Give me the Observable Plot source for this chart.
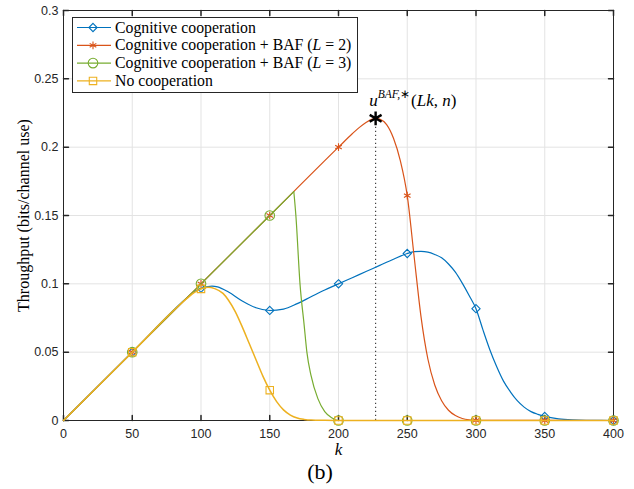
<!DOCTYPE html>
<html>
<head>
<meta charset="utf-8">
<script src="https://cdn.jsdelivr.net/npm/d3@7"></script>
<script src="https://cdn.jsdelivr.net/npm/@observablehq/plot@0.6"></script>
<style>
  body { margin: 0; background: #fff; }
  #wrap { position: relative; width: 634px; height: 489px; overflow: hidden; }
  #chart svg { display: block; }
  #legend { position: absolute; left: 72px; top: 17px; }
  #caption { position: absolute; left: 0; top: 461px; width: 640px; text-align: center;
             font-family: "Liberation Serif", serif; font-size: 22px; line-height: 22px; color: #000; }
</style>
</head>
<body>
<div id="wrap">
  <div id="chart"></div>
  <svg id="legend" width="287" height="77"></svg>
  <div id="caption">(b)</div>
</div>
<script>
// ---- Data ----
const xTicks = [0, 50, 100, 150, 200, 250, 300, 350, 400];
const yTicks = [0, 0.05, 0.1, 0.15, 0.2, 0.25, 0.3];
const yTickLabels = ["0", "0.05", "0.1", "0.15", "0.2", "0.25", "0.3"];

const seriesNames = [
  "Cognitive cooperation",
  "Cognitive cooperation + BAF (L = 2)",
  "Cognitive cooperation + BAF (L = 3)",
  "No cooperation"
];
const seriesColors = ["#0072BD", "#D95319", "#77AC30", "#EDB120"];

// Cognitive cooperation (blue)
const kBlue = [0, 50, 90, 95, 100, 105, 108, 112, 120, 130, 140, 150, 160, 170, 180, 190, 200, 210, 220, 230, 240, 250, 255, 260, 265, 270, 275, 280, 285, 290, 295, 300, 305, 310, 315, 320, 325, 330, 335, 340, 345, 350, 360, 370, 380, 400];
const yBlue = [0, 0.05, 0.09, 0.0942, 0.0968, 0.098, 0.0983, 0.0978, 0.094, 0.0875, 0.0825, 0.0805, 0.0815, 0.0855, 0.0905, 0.0955, 0.1, 0.1045, 0.109, 0.1135, 0.118, 0.1222, 0.1235, 0.1237, 0.1232, 0.1215, 0.119, 0.1145, 0.1085, 0.1005, 0.0915, 0.0818, 0.0665, 0.052, 0.0395, 0.0288, 0.021, 0.0145, 0.0098, 0.0065, 0.0045, 0.003, 0.0012, 0.0004, 0.0001, 0];

// Cognitive cooperation + BAF (L = 2) (red)
const kRed = [0, 50, 100, 150, 200, 210, 215, 220, 225, 227, 230, 235, 240, 245, 250, 255, 260, 265, 270, 275, 280, 285, 290, 295, 300, 400];
const yRed = [0, 0.05, 0.1, 0.15, 0.2, 0.2098, 0.2143, 0.2181, 0.2207, 0.2211, 0.2205, 0.2165, 0.2065, 0.19, 0.1645, 0.12, 0.076, 0.045, 0.026, 0.0145, 0.0075, 0.0036, 0.0015, 0.0005, 0.0001, 0];

// Cognitive cooperation + BAF (L = 3) (green) — sharp kink at greenKink
const kGreen = [0, 50, 100, 150, 167.5, 169, 172, 175, 177, 180, 185, 190, 195, 200, 400];
const yGreen = [0, 0.05, 0.1, 0.15, 0.1675, 0.15, 0.1, 0.07, 0.05, 0.033, 0.016, 0.0065, 0.002, 0, 0];
const greenKink = 167.5;

// No cooperation (yellow)
const kYellow = [0, 50, 90, 95, 100, 105, 110, 116, 120, 125, 130, 135, 140, 145, 150, 155, 160, 165, 170, 175, 180, 190, 200, 400];
const yYellow = [0, 0.05, 0.0895, 0.0935, 0.0963, 0.0975, 0.0965, 0.093, 0.088, 0.0795, 0.0685, 0.0565, 0.0445, 0.0325, 0.0222, 0.0138, 0.0078, 0.004, 0.0018, 0.0008, 0.0003, 0.0001, 0, 0];

// Marker positions
const kMarks = [50, 100, 150, 200, 250, 300, 350, 400];
const blueMarks = [0.05, 0.0968, 0.0805, 0.1, 0.1222, 0.0818, 0.003, 0];
const redMarks = [0.05, 0.1, 0.15, 0.2, 0.1645, 0.0001, 0, 0];
const greenMarks = [0.05, 0.1, 0.15, 0, 0, 0, 0, 0];
const yellowMarks = [0.05, 0.0963, 0.0222, 0, 0, 0, 0, 0];

// Annotated optimum
const peakK = 227;
const peakY = 0.2211;

// ---- Build ----
const zip = (ks, ys) => ks.map((k, i) => ({k, y: ys[i]}));
const blue = zip(kBlue, yBlue), red = zip(kRed, yRed), green = zip(kGreen, yGreen), yellow = zip(kYellow, yYellow);
const marks = [zip(kMarks, blueMarks), zip(kMarks, redMarks), zip(kMarks, greenMarks), zip(kMarks, yellowMarks)];
const symbols = ["diamond2", "asterisk", "circle", "square"];
const radii = [3.7, 3.6, 4.8, 4.2];

const axisColor = "#262626";
const serif = "'Liberation Serif', 'Times New Roman', serif";
const lw = 1.2;

const lineMarks = [
  [Plot.line(blue, {x: "k", y: "y", stroke: seriesColors[0], strokeWidth: lw, curve: "monotone-x"})],
  [Plot.line(red, {x: "k", y: "y", stroke: seriesColors[1], strokeWidth: lw, curve: "monotone-x"})],
  [Plot.line(green.filter(d => d.k <= greenKink), {x: "k", y: "y", stroke: seriesColors[2], strokeWidth: lw}),
   Plot.line(green.filter(d => d.k >= greenKink), {x: "k", y: "y", stroke: seriesColors[2], strokeWidth: lw, curve: "monotone-x"})],
  [Plot.line(yellow, {x: "k", y: "y", stroke: seriesColors[3], strokeWidth: 1.5, curve: "monotone-x"})]
];
const seriesMarks = [];
lineMarks.forEach((ls, i) => {
  seriesMarks.push(...ls);
  seriesMarks.push(Plot.dot(marks[i], {x: "k", y: "y", symbol: symbols[i], r: radii[i], stroke: seriesColors[i], fill: "none", strokeWidth: 1.1}));
});

const chart = Plot.plot({
  width: 634,
  height: 462,
  marginLeft: 63,
  marginRight: 21,
  marginTop: 10,
  marginBottom: 42,
  style: {fontFamily: "'Liberation Sans', Arial, sans-serif", fontSize: "12.5px", color: axisColor, background: "#fff"},
  x: {domain: [0, 400]},
  y: {domain: [0, 0.3]},
  marks: [
    Plot.gridX(xTicks, {stroke: "#e3e3e3", strokeOpacity: 1}),
    Plot.gridY(yTicks, {stroke: "#e3e3e3", strokeOpacity: 1}),
    Plot.axisX({ticks: xTicks, tickSize: 0, tickPadding: 9, label: null, fill: axisColor}),
    Plot.axisY({ticks: yTicks, tickSize: 0, tickPadding: 5, label: null, fill: axisColor,
                tickFormat: (d) => yTickLabels[yTicks.indexOf(d)]}),
    Plot.axisX({ticks: [], tickSize: 0, label: "k", labelAnchor: "center", labelArrow: "none", labelOffset: 34,
                fontFamily: serif, fontStyle: "italic", fontSize: 17, fill: "#000"}),
    Plot.axisY({ticks: [], tickSize: 0, label: "Throughput (bits/channel use)", labelAnchor: "center", labelArrow: "none",
                labelOffset: 46, fontFamily: serif, fontSize: 16, fill: "#000"}),
    // frame and inward ticks on all four sides (under the data, as in the reference)
    Plot.frame({stroke: axisColor, strokeWidth: 1}),
    Plot.vector(xTicks, {x: (d) => d, frameAnchor: "bottom", length: 5, rotate: 0, anchor: "start", r: 0, stroke: axisColor}),
    Plot.vector(xTicks, {x: (d) => d, frameAnchor: "top", length: 5, rotate: 180, anchor: "start", r: 0, stroke: axisColor}),
    Plot.vector(yTicks, {y: (d) => d, frameAnchor: "left", length: 5, rotate: 90, anchor: "start", r: 0, stroke: axisColor}),
    Plot.vector(yTicks, {y: (d) => d, frameAnchor: "right", length: 5, rotate: -90, anchor: "start", r: 0, stroke: axisColor}),
    Plot.ruleX([peakK], {y1: 0, y2: peakY, stroke: "#333", strokeDasharray: "1.2,2.8", strokeWidth: 1.1}),
    ...seriesMarks,
    Plot.dot([{k: peakK, y: peakY}], {x: "k", y: "y", symbol: "asterisk", r: 6.5, stroke: "#000", strokeWidth: 2.4})
  ]
});
document.getElementById("chart").appendChild(chart);

// Annotation u^{BAF,*}(Lk, n) anchored at the optimum through the chart's scales
const sx = chart.scale("x"), sy = chart.scale("y");
const px = sx.apply(peakK), py = sy.apply(peakY);
const ann = d3.select(chart).append("text")
  .attr("x", px - 6).attr("y", py - 12).attr("text-anchor", "start")
  .attr("font-family", serif).attr("font-size", 17).attr("fill", "#000");
ann.append("tspan").attr("font-style", "italic").text("u");
ann.append("tspan").attr("font-style", "italic").attr("font-size", 11.5).attr("dy", -7.5).text("BAF,");
ann.append("tspan").attr("font-size", 11.5).text("∗");
ann.append("tspan").attr("dy", 7.5).attr("dx", 1).text("(");
ann.append("tspan").attr("font-style", "italic").text("Lk");
ann.append("tspan").text(", ");
ann.append("tspan").attr("font-style", "italic").text("n");
ann.append("tspan").text(")");

// Legend
const lg = d3.select("#legend");
lg.append("rect").attr("x", 0.5).attr("y", 0.5).attr("width", 285).attr("height", 75)
  .attr("fill", "#fff").attr("stroke", axisColor).attr("stroke-width", 1);
const d3Symbols = {diamond2: d3.symbolDiamond2, asterisk: d3.symbolAsterisk, circle: d3.symbolCircle, square: d3.symbolSquare};
seriesNames.forEach((name, i) => {
  const cy = 10.5 + i * 17.8;
  const g = lg.append("g");
  g.append("line").attr("x1", 5).attr("x2", 39).attr("y1", cy).attr("y2", cy)
    .attr("stroke", seriesColors[i]).attr("stroke-width", lw);
  g.append("path").attr("transform", `translate(21,${cy})`)
    .attr("d", d3.symbol(d3Symbols[symbols[i]], Math.PI * radii[i] * radii[i])())
    .attr("fill", "none").attr("stroke", seriesColors[i]).attr("stroke-width", 1.1);
  const t = g.append("text").attr("x", 43).attr("y", cy + 5)
    .attr("font-family", serif).attr("font-size", 15.8).attr("fill", "#000");
  const m = name.match(/^(.*)\(L = (\d)\)$/);
  if (m) {
    t.append("tspan").text(m[1] + "(");
    t.append("tspan").attr("font-style", "italic").text("L");
    t.append("tspan").text(" = " + m[2] + ")");
  } else {
    t.text(name);
  }
});
</script>
</body>
</html>
